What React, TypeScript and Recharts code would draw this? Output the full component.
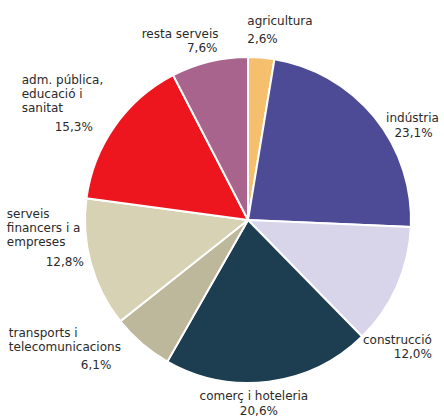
import { Pie, PieChart, Cell } from "recharts";

const categories = [
  "agricultura",
  "indústria",
  "construcció",
  "comerç i hoteleria",
  "transports i\ntelecomunicacions",
  "serveis\nfinancers i a\nempreses",
  "adm. pública,\neducació i\nsanitat",
  "resta serveis",
];
const shares = [2.6, 23.1, 12.0, 20.6, 6.1, 12.8, 15.3, 7.6];
const colors = ["#f5bf6e", "#4d4a96", "#d8d5ea", "#1d3d50", "#bdb89c", "#d7d2b3", "#ee161e", "#a8648c"];

// where each label sits relative to the slice's outer edge point
const labelLayout = [
  { anchor: "start", dx: -14, dy: -33, pctAnchor: "start", pdx: -14, pdy: -15 },
  { anchor: "middle", dx: 38, dy: 5, pctAnchor: "middle", pdx: 39, pdy: 20 },
  { anchor: "end", dx: 35, dy: 58, pctAnchor: "end", pdx: 35, pdy: 72 },
  { anchor: "middle", dx: -15, dy: 18, pctAnchor: "middle", pdx: -10, pdy: 33 },
  { anchor: "start", dx: -133, dy: -7, pctAnchor: "start", pdx: -61, pdy: 25 },
  { anchor: "start", dx: -84, dy: -45, pctAnchor: "end", pdx: -7, pdy: 3 },
  { anchor: "start", dx: -93, dy: -42, pctAnchor: "start", pdx: -60, pdy: 5 },
  { anchor: "end", dx: 9, dy: -24, pctAnchor: "end", pdx: 8, pdy: -10 },
];

const data = categories.map((name, i) => ({ name, value: shares[i] }));

const RAD = Math.PI / 180;

function fmtPct(v: number) {
  return v.toFixed(1).replace(".", ",") + "%";
}

function renderLabel(props: any) {
  const { cx, cy, midAngle, outerRadius, index, value } = props;
  const px = cx + outerRadius * Math.cos(-midAngle * RAD);
  const py = cy + outerRadius * Math.sin(-midAngle * RAD);
  const l = labelLayout[index];
  const lines = categories[index].split("\n");
  return (
    <g>
      {lines.map((line, i) => (
        <text key={i} x={px + l.dx} y={py + l.dy + i * 14} textAnchor={l.anchor} fill="#2a2a2a" fontSize={12}>
          {line}
        </text>
      ))}
      <text x={px + l.pdx} y={py + l.pdy} textAnchor={l.pctAnchor} fill="#2a2a2a" fontSize={12}>
        {fmtPct(value)}
      </text>
    </g>
  );
}

export default function App() {
  return (
    <div style={{ position: "absolute", left: 0, top: 0, width: 444, height: 418, background: "#fff", fontFamily: "'DejaVu Sans', sans-serif" }}>
      <PieChart width={444} height={418} margin={{ top: 0, right: 0, bottom: 0, left: 0 }}>
        <Pie
          data={data}
          dataKey="value"
          nameKey="name"
          cx={248}
          cy={220}
          outerRadius={163}
          startAngle={90}
          endAngle={-270}
          stroke="#ffffff"
          strokeWidth={2}
          label={renderLabel}
          labelLine={false}
          isAnimationActive={false}
        >
          {data.map((d, i) => (
            <Cell key={d.name} fill={colors[i]} />
          ))}
        </Pie>
      </PieChart>
    </div>
  );
}
